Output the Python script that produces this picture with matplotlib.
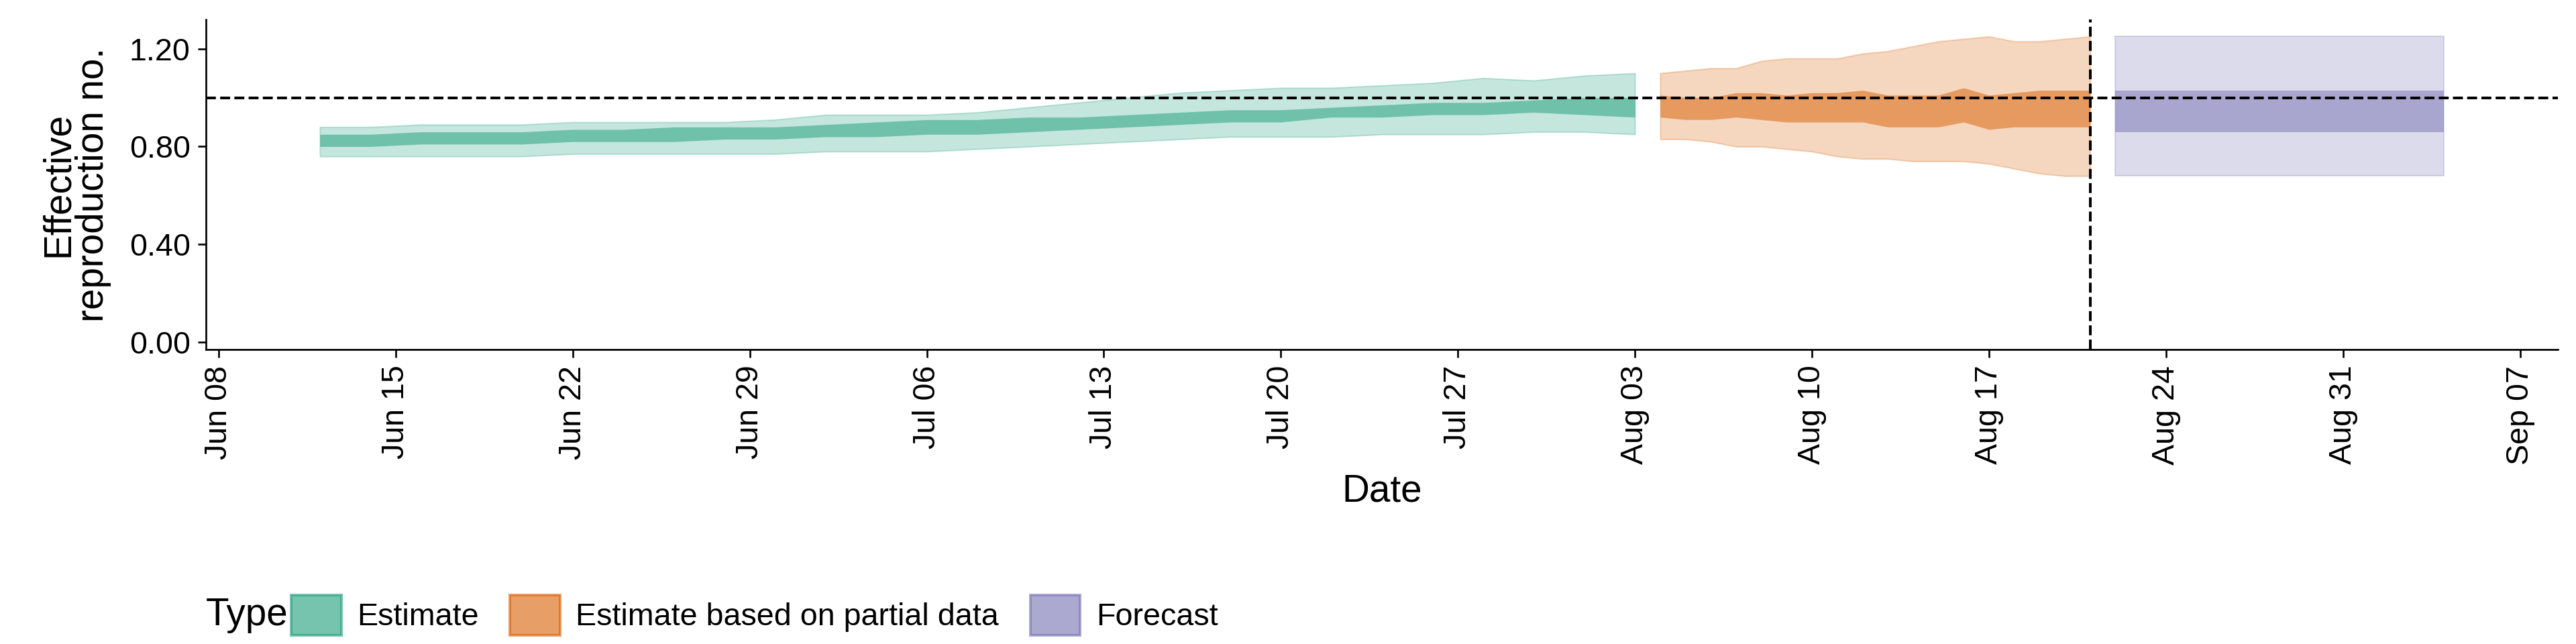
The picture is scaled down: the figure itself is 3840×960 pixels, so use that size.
import matplotlib.pyplot as plt
import matplotlib.dates as mdates
import numpy as np
from matplotlib.patches import Patch

plt.rcParams['font.family'] = ['Liberation Sans', 'DejaVu Sans']

# estimate (every 2 days from Jun 12 to Aug 03)
est_dates = np.arange(np.datetime64('2020-06-12'), np.datetime64('2020-08-04'), 2)
est_lo90 = [0.76, 0.76, 0.76, 0.76, 0.76, 0.77, 0.77, 0.77, 0.77, 0.77, 0.78, 0.78, 0.78, 0.79,
            0.80, 0.81, 0.82, 0.83, 0.84, 0.84, 0.84, 0.85, 0.85, 0.85, 0.86, 0.86, 0.85]
est_hi90 = [0.88, 0.88, 0.89, 0.89, 0.89, 0.90, 0.90, 0.90, 0.90, 0.91, 0.93, 0.93, 0.93, 0.94,
            0.96, 0.98, 1.00, 1.02, 1.03, 1.04, 1.04, 1.05, 1.06, 1.08, 1.07, 1.09, 1.10]
est_lo50 = [0.80, 0.80, 0.81, 0.81, 0.81, 0.82, 0.82, 0.82, 0.83, 0.83, 0.84, 0.84, 0.85, 0.85,
            0.86, 0.87, 0.88, 0.89, 0.90, 0.90, 0.92, 0.92, 0.93, 0.93, 0.94, 0.93, 0.92]
est_hi50 = [0.85, 0.85, 0.86, 0.86, 0.86, 0.87, 0.87, 0.88, 0.88, 0.88, 0.89, 0.90, 0.91, 0.91,
            0.92, 0.92, 0.93, 0.94, 0.95, 0.95, 0.96, 0.97, 0.98, 0.98, 0.99, 1.00, 1.00]

# estimate based on partial data (daily Aug 04 - Aug 21)
part_dates = np.arange(np.datetime64('2020-08-04'), np.datetime64('2020-08-22'), 1)
part_lo90 = [0.83, 0.83, 0.82, 0.80, 0.80, 0.79, 0.78, 0.76, 0.75, 0.75, 0.74, 0.74, 0.74, 0.73,
             0.71, 0.69, 0.68, 0.68]
part_hi90 = [1.10, 1.11, 1.12, 1.12, 1.15, 1.16, 1.16, 1.16, 1.18, 1.19, 1.21, 1.23, 1.24, 1.25,
             1.23, 1.23, 1.24, 1.25]
part_lo50 = [0.92, 0.91, 0.91, 0.92, 0.91, 0.90, 0.90, 0.90, 0.90, 0.88, 0.88, 0.88, 0.90, 0.87,
             0.88, 0.88, 0.88, 0.88]
part_hi50 = [1.01, 1.00, 1.00, 1.02, 1.02, 1.01, 1.02, 1.02, 1.03, 1.01, 1.01, 1.01, 1.04, 1.01,
             1.02, 1.03, 1.03, 1.03]

# forecast (Aug 22 - Sep 04)
fc_dates = np.array([np.datetime64('2020-08-22'), np.datetime64('2020-09-04')])
fc_lo90 = [0.68, 0.68]
fc_hi90 = [1.25, 1.25]
fc_lo50 = [0.86, 0.86]
fc_hi50 = [1.03, 1.03]

colors = {'Estimate': '#1b9e77', 'Estimate based on partial data': '#d95f02', 'Forecast': '#7570b3'}

fig, ax = plt.subplots(figsize=(16, 4), dpi=240)
groups = [('Estimate', est_dates, est_lo90, est_hi90, est_lo50, est_hi50),
          ('Estimate based on partial data', part_dates, part_lo90, part_hi90, part_lo50, part_hi50),
          ('Forecast', fc_dates, fc_lo90, fc_hi90, fc_lo50, fc_hi50)]
for name, d, lo90, hi90, lo50, hi50 in groups:
    c = colors[name]
    dd = d.astype('datetime64[D]').astype(object)
    ax.fill_between(dd, lo90, hi90, color=c, alpha=0.25, lw=0.6, edgecolor=c)
    ax.fill_between(dd, lo50, hi50, color=c, alpha=0.5, lw=0)

ax.axhline(1.0, color='black', ls='--', lw=1.2)
ax.axvline(np.datetime64('2020-08-21').astype(object), color='black', ls='--', lw=1.2)

ax.set_ylim(-0.03, 1.32)
ax.set_yticks([0, 0.4, 0.8, 1.2])
ax.set_yticklabels(['0.00', '0.40', '0.80', '1.20'])
ax.set_xlim(np.datetime64('2020-06-07T12').astype(object), np.datetime64('2020-09-08T12').astype(object))
ticks = np.arange(np.datetime64('2020-06-08'), np.datetime64('2020-09-08'), 7)
ax.set_xticks(ticks.astype(object))
ax.xaxis.set_major_formatter(mdates.DateFormatter('%b %d'))
plt.setp(ax.get_xticklabels(), rotation=90)
ax.tick_params(labelsize=14, colors='black')
for s in ['top', 'right']:
    ax.spines[s].set_visible(False)
ax.set_xlabel('Date', fontsize=17)
ax.set_ylabel('Effective\nreproduction no.', fontsize=17, linespacing=0.95, labelpad=8)

handles = [Patch(facecolor=colors[k], alpha=0.6, edgecolor=colors[k], lw=1.2) for k in colors]
fig.text(0.08, 0.045, 'Type', fontsize=17, va='center', ha='left')
fig.legend(handles, list(colors), loc='center left', bbox_to_anchor=(0.113, 0.045), ncol=3,
           frameon=False, fontsize=14, handlelength=1.6, handleheight=1.6,
           columnspacing=1.0, handletextpad=0.5, borderaxespad=0, borderpad=0)

fig.subplots_adjust(left=0.08, right=0.993, top=0.97, bottom=0.457)
fig.savefig('out.png', dpi=240)
